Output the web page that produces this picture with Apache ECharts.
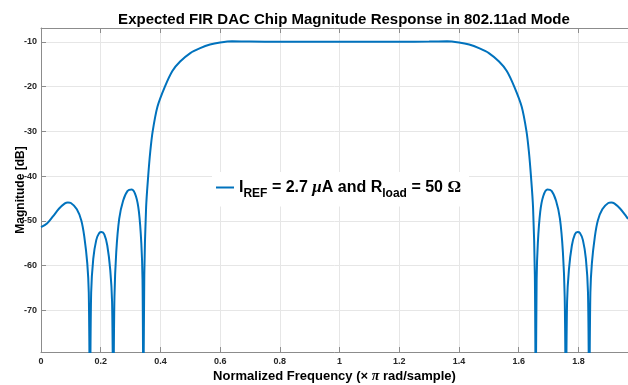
<!DOCTYPE html>
<html>
<head>
<meta charset="utf-8">
<script src="https://cdn.jsdelivr.net/npm/echarts@6/dist/echarts.min.js"></script>
<style>
  html, body { margin: 0; padding: 0; background: #fff; }
  #chart { width: 628px; height: 385px; }
</style>
</head>
<body>
<div id="chart"></div>
<script>
// (x in units of pi rad/sample, magnitude in dB)
var freq = [
  0.00, 0.02, 0.04, 0.06, 0.08, 0.09, 0.10, 0.12, 0.135, 0.145, 0.155, 0.160, 0.164, 0.168, 0.175, 0.185,
  0.195, 0.203, 0.212, 0.222, 0.232, 0.238, 0.242, 0.246, 0.252, 0.262, 0.275, 0.29, 0.304, 0.318, 0.328,
  0.336, 0.340, 0.343, 0.346, 0.352, 0.359, 0.366, 0.374, 0.39, 0.415, 0.44, 0.466, 0.50, 0.533, 0.566,
  0.60, 0.64, 0.70, 0.80, 0.90, 1.00, 1.10, 1.20, 1.30, 1.36, 1.40, 1.434, 1.467, 1.50, 1.534, 1.56,
  1.585, 1.61, 1.626, 1.634, 1.641, 1.648, 1.654, 1.657, 1.660, 1.664, 1.672, 1.682, 1.696, 1.71, 1.725,
  1.738, 1.748, 1.754, 1.758, 1.762, 1.768, 1.778, 1.788, 1.797, 1.805, 1.815, 1.825, 1.832, 1.836, 1.840,
  1.845, 1.855, 1.865, 1.88, 1.90, 1.91, 1.92, 1.94, 1.96, 1.966
];
var magDb = [
  -51.4, -50.6, -49.0, -47.3, -46.1, -45.9, -46.0, -47.4, -49.9, -53.5, -59.5, -66, -90, -66, -58.5, -54.3,
  -52.7, -52.5, -53.0, -55.5, -61, -68, -90, -67, -57, -49.5, -45.5, -43.3, -43.0, -44.5, -48,
  -55, -63, -90, -62, -47, -40, -34.5, -30, -24.5, -20, -16.5, -14.4, -12.5, -11.4, -10.6,
  -10.15, -9.88, -9.92, -9.97, -9.95, -9.98, -9.95, -9.97, -9.92, -9.88, -10.15, -10.6, -11.4, -12.5, -14.4, -16.5,
  -20, -24.5, -30, -34.5, -40, -47, -62, -90, -63, -55, -48, -44.5, -43.0, -43.3, -45.5,
  -49.5, -57, -67, -90, -68, -61, -55.5, -53.0, -52.5, -52.7, -54.3, -58.5, -66, -90, -66,
  -59.5, -53.5, -49.9, -47.4, -46.0, -45.9, -46.1, -47.3, -49.0, -49.6
];

var xRange = [0, 1.966];
var yRange = [-79.3, -6.9];

var chart = echarts.init(document.getElementById('chart'));

var pts = freq.map(function (f, i) { return [f, magDb[i]]; });

var axisGray = '#8c8c8c';
var labelColor = '#262626';
var fontFam = '"Liberation Sans", Arial, sans-serif';

chart.setOption({
  animation: false,
  backgroundColor: '#fff',
  title: {
    text: 'Expected FIR DAC Chip Magnitude Response in 802.11ad Mode',
    left: 339,
    textAlign: 'center',
    top: 7,
    textStyle: { fontFamily: fontFam, fontWeight: 'bold', fontSize: 15, color: '#000' }
  },
  grid: { left: 41, right: 0, top: 28, bottom: 33, containLabel: false, outerBoundsMode: 'none' },
  legend: {
    left: 212,
    top: 172,
    padding: [7, 8, 7, 4],
    icon: 'rect',
    itemWidth: 18,
    itemHeight: 2,
    itemGap: 0,
    backgroundColor: '#fff',
    data: ['iref'],
    formatter: function () {
      return '{t|I}{s|REF}{t| = 2.7 }{i|\u03bc}{t|A and R}{s|load}{t| = 50 }{o|\u03a9}';
    },
    textStyle: {
      fontFamily: fontFam,
      fontWeight: 'bold',
      color: '#000',
      rich: {
        t: { fontFamily: fontFam, fontWeight: 'bold', fontSize: 16, lineHeight: 24, verticalAlign: 'middle' },
        s: { fontFamily: fontFam, fontWeight: 'bold', fontSize: 12, lineHeight: 24, verticalAlign: 'bottom' },
        i: { fontFamily: '"Liberation Serif", serif', fontStyle: 'italic', fontSize: 17, lineHeight: 24, verticalAlign: 'middle' },
        o: { fontFamily: '"Liberation Serif", serif', fontSize: 17, lineHeight: 24, verticalAlign: 'middle' }
      }
    }
  },
  xAxis: [{
    type: 'value',
    min: xRange[0],
    max: xRange[1],
    interval: 0.2,
    name: 'Normalized Frequency ({x|\u00d7} {p|\u03c0} rad/sample)',
    nameLocation: 'middle',
    nameGap: 17,
    nameMoveOverlap: false,
    nameTextStyle: {
      fontFamily: fontFam, fontWeight: 'bold', fontSize: 13, color: '#000',
      rich: {
        x: { fontFamily: fontFam, fontSize: 13, color: '#000' },
        p: { fontFamily: '"Liberation Serif", serif', fontStyle: 'italic', fontSize: 14, color: '#000' }
      }
    },
    axisLine: { show: true, onZero: false, lineStyle: { color: axisGray, width: 1 } },
    axisTick: { show: true, inside: true, length: 5, lineStyle: { color: axisGray } },
    axisLabel: {
      showMaxLabel: false,
      margin: 5,
      fontFamily: fontFam, fontWeight: 'bold', fontSize: 9, color: labelColor
    },
    splitLine: { show: true, lineStyle: { color: '#e6e6e6', width: 1 } }
  }, {
    type: 'value',
    position: 'top',
    min: xRange[0],
    max: xRange[1],
    interval: 0.2,
    axisLine: { show: true, onZero: false, lineStyle: { color: axisGray, width: 1 } },
    axisTick: { show: true, inside: true, length: 5, lineStyle: { color: axisGray } },
    axisLabel: { show: false },
    splitLine: { show: false }
  }],
  yAxis: {
    type: 'value',
    min: yRange[0],
    max: yRange[1],
    splitNumber: 7,
    name: 'Magnitude [dB]',
    nameLocation: 'middle',
    nameGap: 14,
    nameMoveOverlap: false,
    nameTextStyle: { fontFamily: fontFam, fontWeight: 'bold', fontSize: 12, color: '#000' },
    axisLine: { show: true, onZero: false, lineStyle: { color: axisGray, width: 1 } },
    axisTick: { show: true, inside: true, length: 5, lineStyle: { color: axisGray } },
    axisLabel: {
      showMinLabel: false,
      showMaxLabel: false,
      margin: 4,
      fontFamily: fontFam, fontWeight: 'bold', fontSize: 9, color: labelColor
    },
    splitLine: { show: true, lineStyle: { color: '#e6e6e6', width: 1 } }
  },
  series: [{
    name: 'iref',
    type: 'line',
    xAxisIndex: 0,
    data: pts,
    symbol: 'none',
    smooth: 0.3,
    clip: true,
    lineStyle: { color: '#0072BD', width: 2 },
    itemStyle: { color: '#0072BD' }
  }]
});
</script>
</body>
</html>
